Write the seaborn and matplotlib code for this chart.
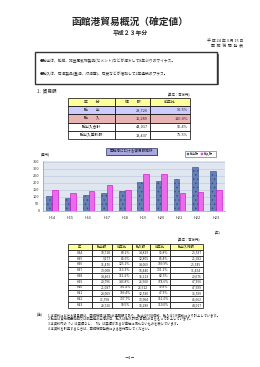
import matplotlib
matplotlib.use('Agg')
import matplotlib.pyplot as plt
from matplotlib.patches import Rectangle
import seaborn as sns
import pandas as pd

# ---------------- data ----------------
years = ['H14', 'H15', 'H16', 'H17', 'H18', 'H19', 'H20', 'H21', 'H22', 'H23']
exports = [10718, 9177, 11476, 13008, 14463, 20796, 21087, 23069, 31758, 28726]
export_yoy = ['88.2%', '85.6%', '125.1%', '113.3%', '111.2%', '143.8%', '101.4%', '109.4%', '137.7%', '90.5%']
imports = [14819, 12805, 14069, 18446, 15213, 26560, 26512, 12530, 13904, 15289]
import_yoy = ['95.8%', '86.4%', '109.9%', '131.1%', '82.5%', '174.6%', '99.8%', '47.3%', '111.0%', '110.0%']
totals = [25537, 21982, 25545, 31454, 29676, 47356, 47599, 35599, 45662, 44017]

summary_labels = ['輸　　出', '輸　　入', '輸出入合計', '輸出入差引額']
summary_values = ['28,726', '15,289', '44,017', '13,437']
summary_yoy = ['90.5%', '110.0%', '96.4%', '75.3%']

big_headers = ['年', '輸出額', '前年比', '輸入額', '前年比', '輸出入総額']
small_headers = ['区　　分', '価　　額', '前年比']

notes = [
    '1 本資料における貿易額は、函館税関(本関)の通関額であり、輸出はFOB価格、輸入はCIF価格により計上しています。',
    '2 輸出は貨物積載船舶又は航空機の出港の日、輸入は輸入許可(承認)の日をもって計上しています。',
    '3 本資料内の「-」は実績なし、「0」は実績があるが単位に満たないものを表しています。',
    '4 本資料を引用するときは、函館税関発表による旨付記してください。',
]

# ---------------- style ----------------
sns.set_theme(style='white')
plt.rcParams['font.family'] = ['Noto Sans CJK JP', 'DejaVu Sans']
plt.rcParams['hatch.linewidth'] = 0.5

fig = plt.figure(figsize=(2.6, 3.67), dpi=100)
page = fig.add_axes([0, 0, 1, 1])
page.set_xlim(0, 260)
page.set_ylim(367, 0)
page.axis('off')

# header texts
page.text(130, 22, '函館港貿易概況（確定値）', ha='center', va='center', fontsize=7, fontweight='bold')
page.text(130, 33, '平成２３年分', ha='center', va='center', fontsize=4.2, fontweight='bold')
page.text(243, 40.5, '平 成 24 年 3 月 15 日', ha='right', va='center', fontsize=2.8)
page.text(243, 46.5, '函  館  税  関  発  表', ha='right', va='center', fontsize=2.8)

# bullet box
page.add_patch(Rectangle((36.5, 53.5), 182, 31.5, facecolor='#666666', edgecolor='none', zorder=1))
page.add_patch(Rectangle((35, 52), 182, 31.5, facecolor='white', edgecolor='#333333', lw=1.0, zorder=2))
page.text(40, 60.5, '●輸出は、船舶、非金属鉱物製品(セメント)などが減少して8年ぶりのマイナス。',
          ha='left', va='center', fontsize=2.7, zorder=3)
page.text(40, 73.5, '●輸入は、石油製品(重油、灯油等)、石炭などが増加して2年連続のプラス。',
          ha='left', va='center', fontsize=2.7, zorder=3)

page.text(37, 91, '1.  貿易額', ha='left', va='center', fontsize=3.3)
page.text(190, 95.5, '(単位：百万円)', ha='right', va='center', fontsize=2.4)

# small summary table
sx = [68, 115, 150, 190]
sy0, sh = 98, 8.2
row_colors = ['#ffff99', '#ccccff', '#e8b4b4', 'white', 'white']
rows = [small_headers] + [[summary_labels[i], summary_values[i], summary_yoy[i]] for i in range(4)]
for r, row in enumerate(rows):
    y = sy0 + r * sh
    for c in range(3):
        page.add_patch(Rectangle((sx[c], y), sx[c + 1] - sx[c], sh,
                                 facecolor=row_colors[r], edgecolor='black', lw=0.5))
        if r == 0 or c == 0:
            page.text((sx[c] + sx[c + 1]) / 2, y + sh / 2, row[c], ha='center', va='center', fontsize=2.8)
        else:
            page.text(sx[c + 1] - 2, y + sh / 2, row[c], ha='right', va='center', fontsize=2.8)

# chart title box and legend
page.add_patch(Rectangle((107, 149), 51, 7, facecolor='#444444', edgecolor='none'))
page.add_patch(Rectangle((106, 148), 51, 7, facecolor='#a8a8e0', edgecolor='#333366', lw=0.5))
page.text(131.5, 151.5, '函館港における貿易額推移', ha='center', va='center', fontsize=2.6)
page.add_patch(Rectangle((185, 151), 31, 6, facecolor='white', edgecolor='#777777', lw=0.5))
page.add_patch(Rectangle((187, 153), 2, 2, facecolor='#5a7cc0', edgecolor='#1f3a7a', lw=0.2))
page.text(189.5, 154, '輸出額', ha='left', va='center', fontsize=2.2)
page.add_patch(Rectangle((201, 153), 2, 2, facecolor='#ff55ff', edgecolor='#cc00cc', lw=0.2))
page.text(203.5, 154, '輸入額', ha='left', va='center', fontsize=2.2)
page.text(45, 154.5, '(億円)', ha='center', va='center', fontsize=2.4)
page.text(218, 232, '(年)', ha='center', va='center', fontsize=2.4)

# ---------------- bar chart ----------------
df = pd.DataFrame({
    'year': years * 2,
    'kind': ['輸出額'] * len(years) + ['輸入額'] * len(years),
    'value': [v / 100 for v in exports] + [v / 100 for v in imports],
})
ax = fig.add_axes([43 / 260, (367 - 211) / 367, 182 / 260, 50 / 367])
ax.set_facecolor('#dfe6f0')
sns.barplot(data=df, x='year', y='value', hue='kind', order=years,
            hue_order=['輸出額', '輸入額'], palette=['#5a7cc0', '#ff55ff'],
            width=0.62, gap=0, ax=ax, legend=False, zorder=3)
for bar in ax.containers[0]:
    bar.set_linewidth(0.4)
    bar.set_hatch('....')
    try:
        bar.set_hatchcolor('#b8c8ea')
        bar.set_edgecolor('#1f3a7a')
    except Exception:
        bar.set_edgecolor('#2f4a8a')
for bar in ax.containers[1]:
    bar.set_edgecolor('#cc00cc')
    bar.set_linewidth(0.4)
ax.set_ylim(0, 357)
ax.set_xlim(-0.5, len(years) - 0.5)
ax.set_yticks(range(0, 351, 50))
ax.yaxis.grid(True, color='#b8c4d8', lw=0.4, zorder=0)
ax.set_axisbelow(True)
ax.set_xlabel('')
ax.set_ylabel('')
ax.tick_params(axis='both', labelsize=2.8, length=1, width=0.3, pad=1.5, colors='#333333')
ax.tick_params(axis='x', length=0, pad=3.5)
for s in ['top', 'right']:
    ax.spines[s].set_visible(False)
for s in ['left', 'bottom']:
    ax.spines[s].set_color('#888888')
    ax.spines[s].set_linewidth(0.4)

# ---------------- big table ----------------
page.text(200, 240.5, '(単位：百万円)', ha='right', va='center', fontsize=2.4)
bx = [68, 92, 112, 132, 150, 170, 203]
by0, bh = 244, 5.8
for c, h in enumerate(big_headers):
    page.add_patch(Rectangle((bx[c], by0), bx[c + 1] - bx[c], bh, facecolor='#ffff99', edgecolor='black', lw=0.5))
    page.text((bx[c] + bx[c + 1]) / 2, by0 + bh / 2, h, ha='center', va='center', fontsize=2.4)
for r in range(len(years)):
    y = by0 + (r + 1) * bh
    vals = [years[r], f'{exports[r]:,}', export_yoy[r], f'{imports[r]:,}', import_yoy[r], f'{totals[r]:,}']
    for c, v in enumerate(vals):
        page.add_patch(Rectangle((bx[c], y), bx[c + 1] - bx[c], bh, facecolor='white', edgecolor='black', lw=0.5))
        if c == 0:
            page.text((bx[c] + bx[c + 1]) / 2, y + bh / 2, v, ha='center', va='center', fontsize=2.4)
        else:
            page.text(bx[c + 1] - 1.5, y + bh / 2, v, ha='right', va='center', fontsize=2.4)

# notes
page.text(37, 315, '(注)', ha='left', va='center', fontsize=2.5)
for i, n in enumerate(notes):
    page.text(48, 315 + i * 4.5, n, ha='left', va='center', fontsize=2.3)

page.text(130, 358, '－1－', ha='center', va='center', fontsize=3)

fig.savefig('out.png', dpi=100)
